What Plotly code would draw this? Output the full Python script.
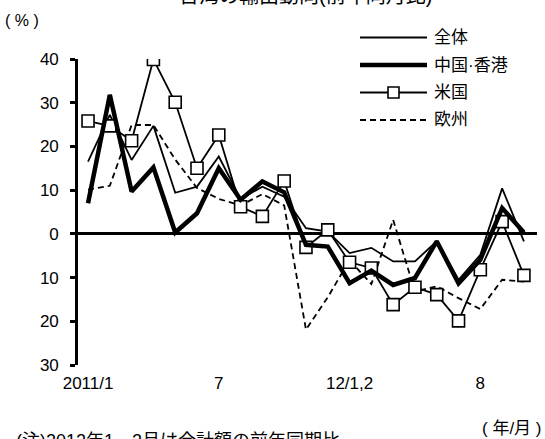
import plotly.graph_objects as go

# Months (2012 Jan and Feb combined into one period)
months = ["2011/1", "2011/2", "2011/3", "2011/4", "2011/5", "2011/6", "2011/7",
          "2011/8", "2011/9", "2011/10", "2011/11", "2011/12", "2012/1,2",
          "2012/3", "2012/4", "2012/5", "2012/6", "2012/7", "2012/8",
          "2012/9", "2012/10"]

# Year-on-year export growth (%)
total = [16.5, 27.2, 16.9, 24.7, 9.4, 10.8, 17.7, 8.0, 10.8, 8.5, 1.3,
         0.5, -4.4, -3.2, -6.3, -6.3, -1.7, -10.5, -4.8, 10.4, -1.7]
china_hk = [7.0, 31.8, 9.7, 15.2, 0.3, 4.7, 15.0, 7.8, 12.0, 9.5, -2.5,
            -2.9, -11.3, -8.4, -11.7, -10.1, -1.7, -11.3, -5.9, 5.9, 0.3]
usa = [25.8, 24.7, 21.3, 39.9, 30.1, 15.0, 22.6, 6.2, 4.0, 12.1, -3.1,
       0.9, -6.5, -7.8, -16.2, -12.2, -13.9, -19.9, -8.2, 2.8, -9.5]
europe = [10.1, 11.0, 24.9, 24.9, 17.0, 10.5, 8.0, 6.5, 9.1, 6.5, -21.9,
          -14.5, -6.0, -11.5, 3.2, -13.2, -12.0, -14.7, -17.2, -10.5, -10.9]

tick_months = ["2011/1", "2011/7", "2012/1,2", "2012/8"]
tick_text = ["2011/1", "7", "12/1,2", "8"]
y_ticks = [40, 30, 20, 10, 0, -10, -20, -30]
y_text = ["40", "30", "20", "10", "0", "10", "20", "30"]

series_names = ["全体", "中国·香港", "米国", "欧州"]

FONT = "Liberation Sans, Arial, Noto Sans CJK JP, sans-serif"
DASH = "6px,4px"
THIN = 1.8
BOLD = 4.5

fig = go.Figure()
fig.add_trace(go.Scatter(x=months, y=europe, mode="lines", name=series_names[3],
                         line=dict(color="black", width=THIN, dash=DASH)))
fig.add_trace(go.Scatter(x=months, y=total, mode="lines", name=series_names[0],
                         line=dict(color="black", width=THIN)))
fig.add_trace(go.Scatter(x=months, y=usa, mode="lines+markers", name=series_names[2],
                         line=dict(color="black", width=THIN),
                         marker=dict(symbol="square", size=12, color="white",
                                     line=dict(color="black", width=1.6))))
fig.add_trace(go.Scatter(x=months, y=china_hk, mode="lines", name=series_names[1],
                         line=dict(color="black", width=BOLD)))

# plot-area geometry in pixels
W_PAGE, H_PAGE = 545, 439
L, R, T, B = 78, 537, 59, 365


def pxx(x):
    return (x - L) / (R - L)


def pxy(y):
    return (B - y) / (B - T)


# hand-drawn legend
rows = [37.5, 65, 92.5, 120]
styles = [dict(width=THIN), dict(width=BOLD), dict(width=THIN), dict(width=THIN, dash=DASH)]
shapes = []
annotations = []
for name, yy, st in zip(series_names, rows, styles):
    shapes.append(dict(type="line", xref="paper", yref="paper",
                       x0=pxx(360), x1=pxx(427), y0=pxy(yy), y1=pxy(yy),
                       line=dict(color="black", **st)))
    annotations.append(dict(text=name, xref="paper", yref="paper",
                            x=pxx(432), y=pxy(yy), xanchor="left", yanchor="middle",
                            showarrow=False, font=dict(size=17)))
half = 5.5 / (B - T)
shapes.append(dict(type="rect", xref="paper", yref="paper",
                   x0=pxx(388), x1=pxx(399), y0=pxy(rows[2]) - half,
                   y1=pxy(rows[2]) + half,
                   fillcolor="white", line=dict(color="black", width=1.6)))

annotations += [
    dict(text="台湾の輸出動向(前年同月比)", xref="paper", yref="paper",
         x=pxx(305), y=pxy(-4), xanchor="center", yanchor="middle",
         showarrow=False, font=dict(size=20)),
    dict(text="( % )", xref="paper", yref="paper", x=pxx(22), y=pxy(20),
         xanchor="center", yanchor="middle", showarrow=False, font=dict(size=16)),
    dict(text="( 年/月 )", xref="paper", yref="paper", x=pxx(544), y=pxy(428),
         xanchor="right", yanchor="middle", showarrow=False, font=dict(size=17)),
    dict(text="(注)2012年1、2月は合計額の前年同期比", xref="paper", yref="paper",
         x=pxx(14), y=pxy(441), xanchor="left", yanchor="middle",
         showarrow=False, font=dict(size=18)),
]

fig.update_layout(
    width=W_PAGE, height=H_PAGE,
    margin=dict(l=L, r=W_PAGE - R, t=T, b=H_PAGE - B, pad=0),
    paper_bgcolor="white", plot_bgcolor="white",
    font=dict(family=FONT, size=17, color="black"),
    showlegend=False,
    shapes=shapes,
    annotations=annotations,
)
fig.update_xaxes(type="category", categoryorder="array", categoryarray=months,
                 range=[-0.46, 20.6], tickmode="array", tickvals=tick_months,
                 ticktext=tick_text, showgrid=False, showline=False, ticks="",
                 zeroline=False, tickfont=dict(size=17), ticklabelstandoff=6)
fig.update_yaxes(range=[-30, 40], tickmode="array", tickvals=y_ticks, ticktext=y_text,
                 showgrid=False, showline=True, linecolor="black", linewidth=2.6,
                 ticks="outside", ticklen=5, tickwidth=2.6, tickcolor="black",
                 zeroline=True, zerolinecolor="black", zerolinewidth=2.6,
                 tickfont=dict(size=17), ticklabelstandoff=8)

fig.write_html("out.html")
